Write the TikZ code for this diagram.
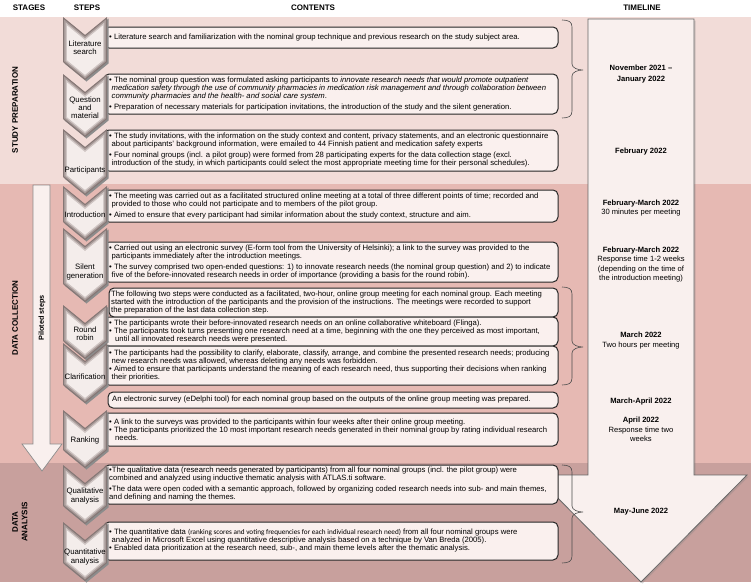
\documentclass[tikz,border=0pt]{standalone}
\usepackage{fontspec}
\setmainfont{Liberation Sans}
\newfontfamily\calib{Carlito}
\usetikzlibrary{shadows}
\definecolor{bandA}{HTML}{F2DCD8}
\definecolor{bandB}{HTML}{E6B9B3}
\definecolor{bandC}{HTML}{C8A09D}
\definecolor{boxfill}{HTML}{FAF0EE}
\definecolor{chevA}{HTML}{857775}
\definecolor{chevB}{HTML}{A89B99}
\definecolor{chevC}{HTML}{CFC5C3}
\definecolor{chevD}{HTML}{F4EDEB}
\definecolor{arrfill}{HTML}{F9F0EE}
\newcommand{\chevlayer}[4]{\fill[#4] ({63+#3},{#1+2.1*#3}) -- (85,{#1+18+1.29*#3}) -- ({107-#3},{#1+2.1*#3}) -- ({107-#3},{#2-0.47*#3}) -- (85,{#2+18-1.29*#3}) -- ({63+#3},{#2-0.47*#3}) -- cycle;}
\newcommand{\chevron}[2]{%
  \begin{scope}[shift={(1.5,1.5)}]\chevlayer{#1}{#2}{0}{black!45}\end{scope}
  \chevlayer{#1}{#2}{0}{chevA}
  \chevlayer{#1}{#2}{1.2}{chevB}
  \chevlayer{#1}{#2}{2.6}{chevC}
  \chevlayer{#1}{#2}{4}{chevD}}
\newcommand{\mybrace}[3]{\draw[bracestyle] (562,#1) .. controls (569,#1) and (572,{#1+2}) .. (572,{#1+7}) -- (572,{#2-6}) .. controls (572,{#2-2}) and (578,#2) .. (583,#2) .. controls (578,#2) and (572,{#2+2}) .. (572,{#2+6}) -- (572,{#3-7}) .. controls (572,{#3-2}) and (569,#3) .. (562,#3);}
\begin{document}
\begin{tikzpicture}[x=1pt,y=-1pt,
  cbox/.style={draw=black!85, line width=1pt, fill=boxfill, rounded corners=5pt},
  ctext/.style={anchor=west, align=left, inner sep=0pt, font=\fontsize{7.7}{8}\selectfont},
  chevlab/.style={align=center, inner sep=0pt, font=\fontsize{7.8}{8.2}\selectfont},
  tltext/.style={align=center, inner sep=0pt, font=\fontsize{7.6}{9.3}\selectfont},
  hdr/.style={font=\bfseries\fontsize{8}{9}\selectfont, inner sep=0pt},
  stagelab/.style={font=\bfseries\fontsize{8}{9.5}\selectfont, rotate=90, align=center, inner sep=0pt},
  pilotlab/.style={font=\bfseries\fontsize{7.3}{9}\selectfont, rotate=90, inner sep=0pt},
  bracestyle/.style={draw=black!70, line width=0.6pt},
  tlarrow/.style={draw=black!60, line width=0.8pt, fill=arrfill, drop shadow={opacity=.3, shadow xshift=1.5pt, shadow yshift=-1.5pt}},
  pilot/.style={draw=black!45, line width=0.7pt, fill=arrfill}
]
\useasboundingbox (0,0) rectangle (753,584);
% bands
\fill[white] (0,0) rectangle (753,584);
\fill[bandA] (0,16.5) rectangle (751,184);
\fill[bandB] (0,184) rectangle (751,463);
\fill[bandC] (0,463) rectangle (751,582);
% headers
\node[hdr] (hstages) at (29,8) {STAGES};
\node[hdr] (hsteps) at (87,8) {STEPS};
\node[hdr] (hcont) at (313,8) {CONTENTS};
\node[hdr] (htime) at (642,8) {TIMELINE};
% stage labels
\node[stagelab] (s1) at (15,110) {STUDY PREPARATION};
\node[stagelab] (s2) at (15,318) {DATA COLLECTION};
\node[stagelab] (s3) at (20,522) {DATA\\ANALYSIS};
% piloted arrow
\draw[pilot] (33,185) -- (50,185) -- (50,444) -- (62,444) -- (42,471) -- (22,444) -- (33,444) -- cycle;
\node[pilotlab] (pil) at (42,318) {Piloted steps};
% timeline arrow
\draw[tlarrow] (588,19) -- (694,19) -- (694,475) -- (747,475) -- (641,582) -- (535,475) -- (588,475) -- cycle;
\node[tltext] (tl1) at (641,74) {\textbf{November 2021 –}\\[2.5pt]\textbf{January 2022}};
\node[tltext] (tl2) at (641,152) {\textbf{February 2022}};
\node[tltext] (tl3) at (641,208) {\textbf{February-March 2022}\\30 minutes per meeting};
\node[tltext] (tl4) at (641,264.5) {\textbf{February-March 2022}\\Response time 1-2 weeks\\(depending on the time of\\the introduction meeting)};
\node[tltext] (tl5) at (641,340.5) {\textbf{March 2022}\\Two hours per meeting};
\node[tltext] (tl6) at (641,402) {\textbf{March-April 2022}};
\node[tltext] (tl7) at (641,429.5) {\textbf{April 2022}\\Response time two\\weeks};
\node[tltext] (tl8) at (641,512) {\textbf{May-June 2022}};
% content boxes
\path[cbox] (104,27) rectangle (558,48);
\node[ctext] (t1) at (109,37.5) {• Literature search and familiarization with the nominal group technique and previous research on the study subject area.};
\path[cbox] (104,74) rectangle (558,114);
\node[ctext] (t2) at (109,94) {• The nominal group question was formulated asking participants to \textit{innovate research needs that would promote outpatient}\\
\hspace*{2.5pt}\textit{medication safety through the use of community pharmacies in medication risk management and through collaboration between}\\
\hspace*{2.5pt}\textit{community pharmacies and the health- and social care system}.\\[3pt]
• Preparation of necessary materials for participation invitations, the introduction of the study and the silent generation.};
\path[cbox] (104,130) rectangle (558,171);
\node[ctext] (t3) at (109,150.5) {• The study invitations, with the information on the study context and content, privacy statements, and an electronic questionnaire\\
\hspace*{2.5pt}about participants' background information, were emailed to 44 Finnish patient and medication safety experts\\[3pt]
• Four nominal groups (incl. a pilot group) were formed from 28 participating experts for the data collection stage (excl.\\
\hspace*{2.5pt}introduction of the study, in which participants could select the most appropriate meeting time for their personal schedules).};
\path[cbox] (104,190) rectangle (558,222);
\node[ctext] (t4) at (109,206) {• The meeting was carried out as a facilitated structured online meeting at a total of three different points of time; recorded and\\
\hspace*{2.5pt}provided to those who could not participate and to members of the pilot group.\\[3pt]
• Aimed to ensure that every participant had similar information about the study context, structure and aim.};
\path[cbox] (104,242) rectangle (558,282);
\node[ctext] (t5) at (109,262) {• Carried out using an electronic survey (E-form tool from the University of Helsinki); a link to the survey was provided to the\\
\hspace*{2.5pt}participants immediately after the introduction meetings.\\[3pt]
• The survey comprised two open-ended questions: 1) to innovate research needs (the nominal group question) and 2) to indicate\\
\hspace*{2.5pt}five of the before-innovated research needs in order of importance (providing a basis for the round robin).};
\path[cbox] (109,288) rectangle (558,317);
\node[ctext] (t6) at (111,302.5) {The following two steps were conducted as a facilitated, two-hour, online group meeting for each nominal group. Each meeting\\
started with the introduction of the participants and the provision of the instructions. The meetings were recorded to support\\
the preparation of the last data collection step.};
\path[cbox] (104,317) rectangle (558,346);
\node[ctext] (t7) at (109,331.5) {• The participants wrote their before-innovated research needs on an online collaborative whiteboard (Flinga).\\
• The participants took turns presenting one research need at a time, beginning with the one they perceived as most important,\\
\hspace*{6pt}until all innovated research needs were presented.};
\path[cbox] (104,346) rectangle (558,385);
\node[ctext] (t8) at (109,365.5) {• The participants had the possibility to clarify, elaborate, classify, arrange, and combine the presented research needs; producing\\
\hspace*{2.5pt}new research needs was allowed, whereas deleting any needs was forbidden.\\
• Aimed to ensure that participants understand the meaning of each research need, thus supporting their decisions when ranking\\
\hspace*{2.5pt}their priorities.};
\path[cbox] (108,392) rectangle (558,408);
\node[ctext] (t9) at (112,400) {An electronic survey (eDelphi tool) for each nominal group based on the outputs of the online group meeting was prepared.};
\path[cbox] (104,413) rectangle (558,446);
\node[ctext] (t10) at (109,429.5) {• A link to the surveys was provided to the participants within four weeks after their online group meeting.\\
• The participants prioritized the 10 most important research needs generated in their nominal group by rating individual research\\
\hspace*{6pt}needs.};
\path[cbox] (104,465) rectangle (558,504);
\node[ctext] (t11) at (109,484.5) {•The qualitative data (research needs generated by participants) from all four nominal groups (incl. the pilot group) were\\
combined and analyzed using inductive thematic analysis with ATLAS.ti software.\\[3pt]
•The data were open coded with a semantic approach, followed by organizing coded research needs into sub- and main themes,\\
and defining and naming the themes.};
\path[cbox] (104,522) rectangle (558,560);
\node[ctext] (t12) at (109,541) {• The quantitative data {\calib\fontsize{7.2}{8}\selectfont(ranking scores and voting frequencies for each individual research need)} from all four nominal groups were\\
\hspace*{2.5pt}analyzed in Microsoft Excel using quantitative descriptive analysis based on a technique by Van Breda (2005).\\
• Enabled data prioritization at the research need, sub-, and main theme levels after the thematic analysis.};
% braces
\mybrace{20}{70}{118}
\mybrace{287}{347}{385}
\mybrace{465}{512}{563}
% chevrons
\chevron{17}{62}
\node[chevlab] (c1) at (85,48) {Literature\\search};
\chevron{74}{119}
\node[chevlab] (c2) at (85,108) {Question\\and\\material};
\chevron{129}{177}
\node[chevlab] (c3) at (85,170) {Participants};
\chevron{186}{222}
\node[chevlab] (c4) at (85,215) {Introduction};
\chevron{228}{284}
\node[chevlab] (c5) at (85,272) {Silent\\generation};
\chevron{305}{341}
\node[chevlab] (c6) at (85,334) {Round\\robin};
\chevron{343}{385}
\node[chevlab] (c7) at (85,377) {Clarification};
\chevron{410}{450}
\node[chevlab] (c8) at (85,440) {Ranking};
\chevron{465}{506}
\node[chevlab] (c9) at (85,496) {Qualitative\\analysis};
\chevron{522}{563}
\node[chevlab] (c10) at (85,557) {Quantitative\\analysis};
\end{tikzpicture}
\end{document}
